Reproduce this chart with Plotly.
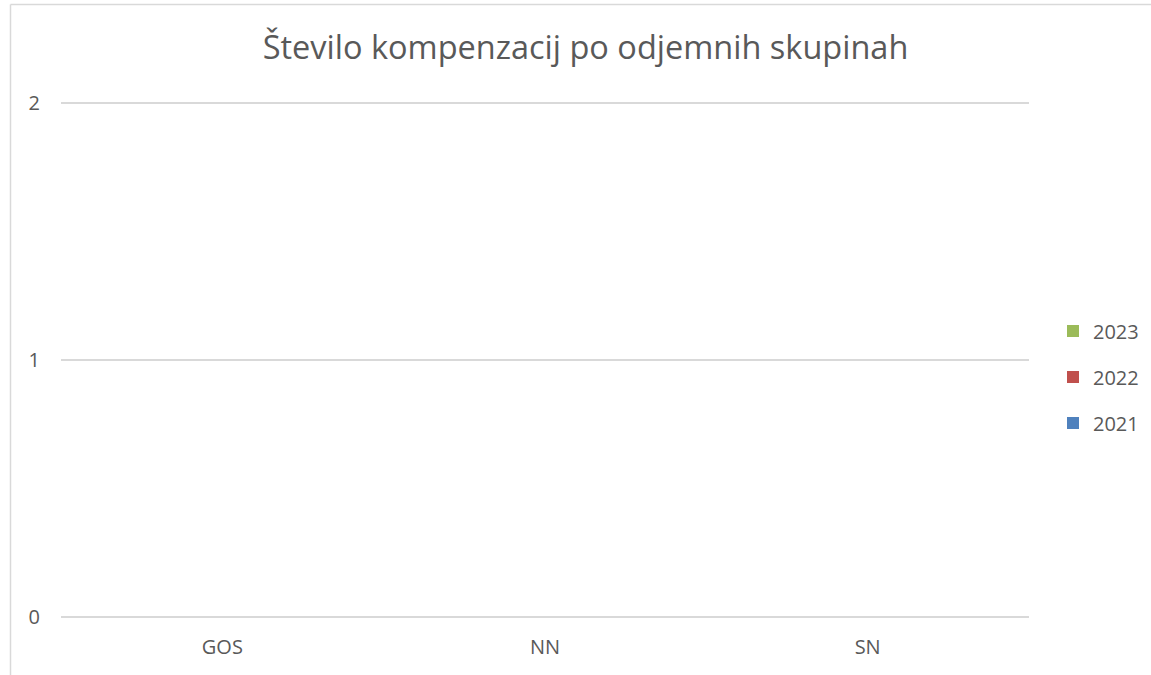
import plotly.graph_objects as go

categories = ["GOS", "NN", "SN"]
series_names = ["2021", "2022", "2023"]
values_2021 = [0, 0, 0]
values_2022 = [0, 0, 0]
values_2023 = [0, 0, 0]
colors = ["#4F81BD", "#C0504D", "#9BBB59"]
legend_ranks = [3, 2, 1]

W, H = 1151, 675
YMAX = 2.004
L, R, B = 61, 122, 58
pw = W - L - R
ph = 515
T = H - B - ph

fig = go.Figure()
for name, vals, col, rk in zip(series_names, [values_2021, values_2022, values_2023], colors, legend_ranks):
    fig.add_trace(go.Bar(x=categories, y=vals, name=name, marker=dict(color=col, line=dict(width=0)),
                         legendgroup=name, legendrank=rk))

def px_x(x):
    return (x - L) / pw

def px_y(y):
    return (H - B - y) / ph

grid = "#D9D9D9"
fig.update_layout(
    width=W, height=H,
    margin=dict(l=L, r=R, t=T, b=B, autoexpand=False),
    paper_bgcolor="white", plot_bgcolor="white",
    font=dict(family="Open Sans", color="#595959", size=20),
    title=dict(text="Število kompenzacij po odjemnih skupinah", x=585.5 / W, xanchor="center",
               y=1 - 48 / H, yanchor="middle", font=dict(size=32.5, color="#595959")),
    barmode="group",
    showlegend=True,
    legend=dict(traceorder="grouped", tracegroupgap=17, x=px_x(1053), xanchor="left",
                y=px_y(377), yanchor="middle", font=dict(size=20, color="#595959"),
                itemwidth=30),
    xaxis=dict(showgrid=False, showline=False, ticks="", ticklabelstandoff=16, tickfont=dict(size=20)),
    yaxis=dict(range=[0, YMAX], tickvals=[0, 1, 2], showgrid=True, gridcolor=grid, gridwidth=1.5,
               zeroline=True, zerolinecolor=grid, zerolinewidth=1.5, showline=False,
               ticks="", ticklabelstandoff=20, tickfont=dict(size=20)),
    shapes=[
        dict(type="line", xref="paper", yref="paper", x0=px_x(10.5), x1=px_x(1151), y0=px_y(4.5), y1=px_y(4.5),
             line=dict(color=grid, width=1.5)),
        dict(type="line", xref="paper", yref="paper", x0=px_x(10.5), x1=px_x(10.5), y0=px_y(4.5), y1=px_y(675),
             line=dict(color=grid, width=1.5)),
    ],
)

fig.write_html("out.html", config={"displayModeBar": False},
               post_script="document.body.style.margin='0';")
